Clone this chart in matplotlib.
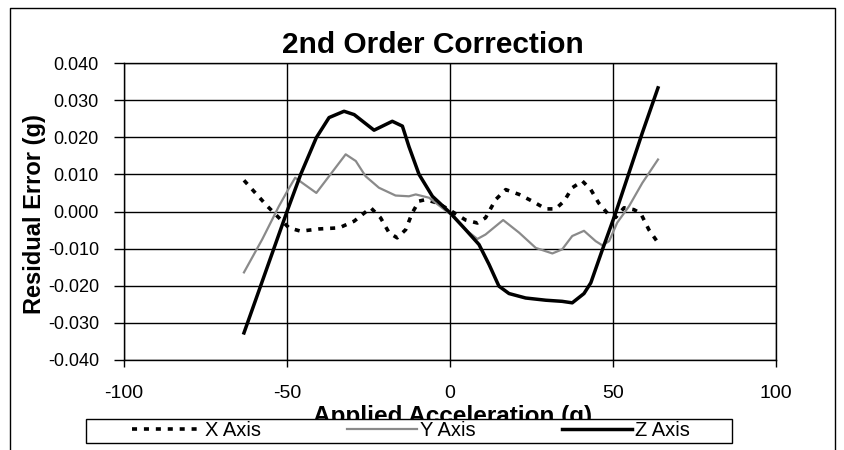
import matplotlib
matplotlib.use("Agg")
import matplotlib.pyplot as plt
from matplotlib.lines import Line2D
from matplotlib.patches import Rectangle

plt.rcParams['font.family'] = ['Liberation Sans', 'DejaVu Sans']

# ---- data ----
x_axis_x = [-63.2, -59.6, -56.0, -49.4, -45.8, -40.2, -34.0, -29.4, -24.3, -21.3, -18.7, -16.2,
            -13.6, -11.6, -9.5, -7.5, -3.9, -0.3, 4.8, 8.4, 10.9, 14.0, 17.1, 21.2, 25.2, 29.4,
            32.4, 35.0, 37.5, 40.6, 43.2, 45.6, 48.8, 50.8, 53.4, 56.4, 58.5, 61.0, 63.8]
x_axis_y = [0.0084, 0.0049, 0.0014, -0.0044, -0.0053, -0.0047, -0.0044, -0.0026, 0.0010, -0.0017,
            -0.0057, -0.0071, -0.0049, -0.0004, 0.0028, 0.0032, 0.0023, 0.0005, -0.0023, -0.0031,
            -0.0017, 0.0032, 0.0059, 0.0046, 0.0028, 0.0007, 0.0007, 0.0028, 0.0064, 0.0082,
            0.0059, 0.0023, -0.0010, -0.0016, 0.0010, 0.0005, -0.0005, -0.0049, -0.0084]

y_axis_x = [-63.2, -57.6, -52.5, -49.9, -47.5, -45.3, -41.0, -37.1, -32.0, -28.9, -25.9, -21.8,
            -16.7, -12.6, -10.5, -6.4, 0.2, 4.8, 8.4, 10.9, 16.3, 21.2, 26.3, 31.4, 34.4, 37.5,
            41.1, 44.7, 46.7, 48.8, 51.3, 54.9, 59.0, 63.8]
y_axis_y = [-0.0164, -0.0075, 0.0014, 0.0055, 0.0091, 0.0077, 0.0050, 0.0095, 0.0154, 0.0136,
            0.0095, 0.0064, 0.0043, 0.0041, 0.0046, 0.0037, -0.0008, -0.0049, -0.0074, -0.0062,
            -0.0023, -0.0057, -0.0098, -0.0113, -0.0102, -0.0066, -0.0052, -0.0080, -0.0091,
            -0.0080, -0.0030, 0.0014, 0.0077, 0.0140]

z_axis_x = [-63.2, -50.0, -45.8, -41.0, -37.1, -32.5, -29.4, -23.3, -17.7, -14.6, -12.6, -9.5,
            -5.4, 0.2, 4.8, 8.9, 12.0, 15.0, 18.1, 23.2, 29.4, 34.4, 37.5, 41.1, 43.2, 46.7,
            50.8, 54.9, 59.0, 63.8]
z_axis_y = [-0.0327, 0.0000, 0.0100, 0.0199, 0.0253, 0.0270, 0.0261, 0.0219, 0.0243, 0.0230,
            0.0175, 0.0100, 0.0041, -0.0005, -0.0049, -0.0089, -0.0143, -0.0201, -0.0221, -0.0233,
            -0.0239, -0.0242, -0.0246, -0.0221, -0.0192, -0.0104, -0.0004, 0.0104, 0.0212, 0.0333]

series_names = ["X Axis", "Y Axis", "Z Axis"]
x_ticks = [-100, -50, 0, 50, 100]
y_ticks = [-0.040, -0.030, -0.020, -0.010, 0.000, 0.010, 0.020, 0.030, 0.040]

W, H = 845, 450
fig = plt.figure(figsize=(W / 100, H / 100), dpi=100)
ax = fig.add_axes([124 / W, 1 - 360 / H, (776 - 124) / W, (360 - 63) / H])

ax.plot(x_axis_x, x_axis_y, color='black', lw=2.6, linestyle=(0, (1.4, 1.9)),
        label=series_names[0], zorder=3)
ax.plot(y_axis_x, y_axis_y, color='#8a8a8a', lw=1.6, label=series_names[1], zorder=3,
        solid_joinstyle='round')
ax.plot(z_axis_x, z_axis_y, color='black', lw=2.5, label=series_names[2], zorder=4,
        solid_joinstyle='round')

ax.set_xlim(-100, 100)
ax.set_ylim(-0.040, 0.040)
ax.set_xticks(x_ticks)
ax.set_yticks(y_ticks)
ax.set_xticklabels([f"{t:d}" for t in x_ticks])
ax.set_yticklabels([f"{t:.3f}" for t in y_ticks])
ax.grid(True, color='black', lw=1.0)
ax.set_axisbelow(True)
for s in ax.spines.values():
    s.set_color('black')
    s.set_linewidth(1.0)
ax.tick_params(axis='x', direction='out', length=5, width=1, pad=13, labelsize=14)
ax.tick_params(axis='y', direction='out', length=7, width=1, pad=11, labelsize=13)

fig.text(433 / W, 1 - 53 / H, "2nd Order Correction", ha='center', va='baseline',
         fontsize=21.5, fontweight='bold')
fig.text(35 / W, 1 - 214 / H, "Residual Error (g)", ha='center', va='center',
         rotation=90, fontsize=17, fontweight='bold')
fig.text(453 / W, 1 - 405 / H, "Applied Acceleration (g)", ha='center', va='top',
         fontsize=17.5, fontweight='bold', zorder=1)

# outer chart border (left, top, right)
fig.add_artist(Line2D([10 / W, 10 / W, 835 / W, 835 / W], [0, 1 - 8 / H, 1 - 8 / H, 0],
                      transform=fig.transFigure, color='black', lw=1.0))

# legend box (drawn over the lower part of the x-axis title, as in the source)
fig.add_artist(Rectangle((86 / W, 1 - 443 / H), (732 - 86) / W, 24 / H,
                         transform=fig.transFigure, facecolor='white', edgecolor='black',
                         lw=1.0, zorder=8))

handles, labels = ax.get_legend_handles_labels()
fs = 14.5
px_per_em = fs * 100 / 72
leg = fig.legend(handles, labels, loc='center', ncol=3,
                 bbox_to_anchor=(411 / W, 1 - 431 / H),
                 frameon=False, fontsize=fs, handlelength=70 / px_per_em,
                 handletextpad=3 / px_per_em, columnspacing=86 / px_per_em,
                 borderpad=0, borderaxespad=0)
leg.set_zorder(10)

fig.savefig("out.png", dpi=100, facecolor='white')
